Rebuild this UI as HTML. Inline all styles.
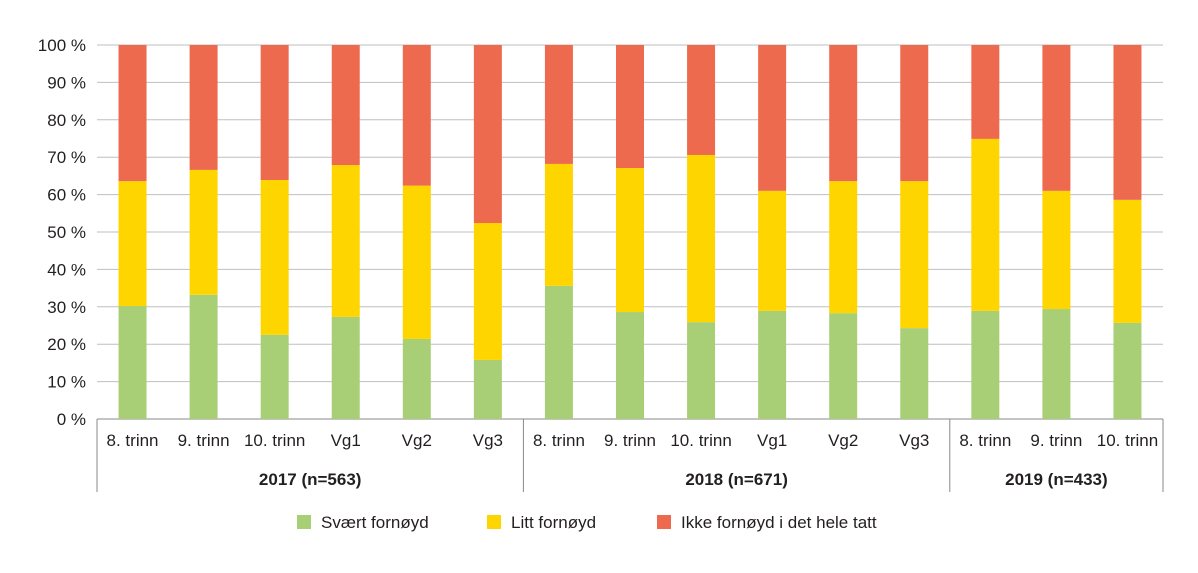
<!DOCTYPE html>
<html><head><meta charset="utf-8"><style>
body{margin:0;background:#fff;font-family:"Liberation Sans",sans-serif}
</style></head><body>
<svg id="chart" width="1198" height="568" xmlns="http://www.w3.org/2000/svg" font-family="Liberation Sans, sans-serif"></svg>
<script>
const categories=["8. trinn","9. trinn","10. trinn","Vg1","Vg2","Vg3","8. trinn","9. trinn","10. trinn","Vg1","Vg2","Vg3","8. trinn","9. trinn","10. trinn"];
const svaertFornoyd=[30.2,33.2,22.5,27.3,21.4,15.8,35.6,28.6,25.9,28.9,28.3,24.3,28.9,29.4,25.7];
const littFornoyd=[33.4,33.4,41.4,40.6,41.0,36.6,32.6,38.5,44.7,32.1,35.3,39.3,46.0,31.6,32.9];
const groups=["2017 (n=563)","2018 (n=671)","2019 (n=433)"];
const groupSizes=[6,6,3];
const yTicks=[0,10,20,30,40,50,60,70,80,90,100];
const seriesNames=["Svært fornøyd","Litt fornøyd","Ikke fornøyd i det hele tatt"];
const colors=["#a9cf76","#ffd500","#ee6a4e"];
const svg=document.getElementById('chart');
const NS="http://www.w3.org/2000/svg";
const x0=97,x1=1163,yB=419,yT=45;
const step=(x1-x0)/categories.length, bw=28;
const y=v=>yB-(yB-yT)*v/100;
function el(t,a,txt){const e=document.createElementNS(NS,t);for(const k in a)e.setAttribute(k,a[k]);if(txt!==undefined)e.textContent=txt;svg.appendChild(e);return e;}
yTicks.forEach(t=>{
  const g=el('line',{x1:x0,x2:x1,y1:y(t),y2:y(t),stroke:t===0?'#888':'#bfbfbf','stroke-width':1});
  
  
  const l=el('text',{x:86,y:y(t)+6,'text-anchor':'end','font-size':17,fill:'#231f20'},t+' %');
  
  
});
categories.forEach((c,i)=>{
  const cx=x0+step*(i+0.5);
  const g=svaertFornoyd[i], yl=littFornoyd[i];
  const vals=[[0,g],[g,g+yl],[g+yl,100]];
  vals.forEach((v,s)=>{
    const r=el('rect',{x:cx-bw/2,y:y(v[1]),width:bw,height:y(v[0])-y(v[1]),fill:colors[s]});
    
    
  });
  const t=el('text',{x:cx,y:446,'text-anchor':'middle','font-size':17,fill:'#231f20'},c);
  
  
});
let idx=0;
const sep=[x0];
groups.forEach((gname,gi)=>{
  const start=x0+step*idx; idx+=groupSizes[gi]; const end=x0+step*idx; sep.push(end);
  const t=el('text',{x:(start+end)/2,y:485,'text-anchor':'middle','font-size':17,'font-weight':'bold',fill:'#231f20'},gname);
  
  
});
sep.forEach(s=>{
  const l=el('line',{x1:s,x2:s,y1:yB,y2:492,stroke:'#888','stroke-width':1});
  
  
});
const lx=[297,487,657];
seriesNames.forEach((n,i)=>{
  const r=el('rect',{x:lx[i],y:515,width:14,height:14,fill:colors[i]});
  
  
  const t=el('text',{x:lx[i]+24,y:528,'font-size':17,fill:'#231f20'},n);
  
  
});
</script>
</body></html>
